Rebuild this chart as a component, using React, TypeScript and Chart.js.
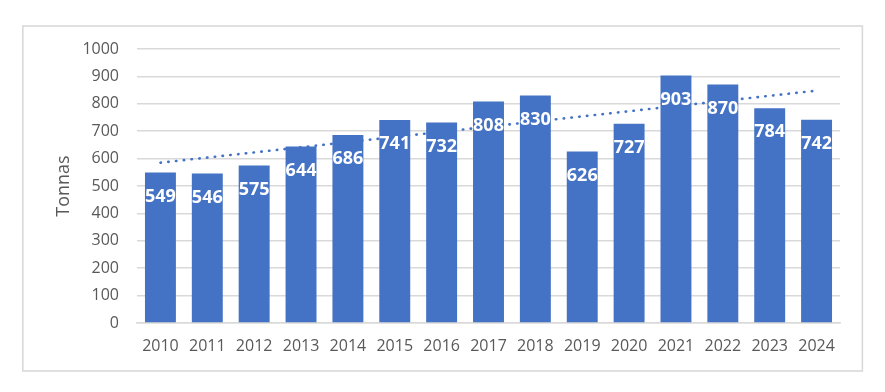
import React, { useEffect, useRef } from "react";
import { Chart, registerables } from "chart.js";

Chart.register(...registerables);

const years = ["2010", "2011", "2012", "2013", "2014", "2015", "2016", "2017", "2018", "2019", "2020", "2021", "2022", "2023", "2024"];
const tonnes = [549, 546, 575, 644, 686, 741, 732, 808, 830, 626, 727, 903, 870, 784, 742];
// linear trendline endpoints
const trendStart = 585;
const trendEnd = 848;
const yTitle = "Tonnas";

const FONT = "'Open Sans', 'Noto Sans', sans-serif";
const BLUE = "#4472C4";
const GRID = "#D9D9D9";
const TEXT = "#595959";

const trendData: (number | null)[] = years.map((_, i) =>
  i === 0 ? trendStart : i === years.length - 1 ? trendEnd : null
);

const framePlugin = {
  id: "frame",
  beforeDraw(chart: any) {
    const ctx = chart.ctx;
    ctx.save();
    ctx.fillStyle = "#ffffff";
    ctx.fillRect(0, 0, chart.width, chart.height);
    ctx.strokeStyle = GRID;
    ctx.lineWidth = 1.6;
    ctx.strokeRect(22.8, 26, 839.6, 345);
    ctx.restore();
  },
};

const labelPlugin = {
  id: "barLabels",
  afterDraw(chart: any) {
    const ctx = chart.ctx;
    const meta = chart.getDatasetMeta(0);
    ctx.save();
    ctx.fillStyle = "#ffffff";
    ctx.font = `bold 18px ${FONT}`;
    ctx.textAlign = "center";
    ctx.textBaseline = "middle";
    meta.data.forEach((bar: any, i: number) => {
      ctx.fillText(String(tonnes[i]), bar.x, bar.y + 24);
    });
    ctx.restore();
  },
};

export default function App() {
  const ref = useRef<HTMLCanvasElement | null>(null);
  useEffect(() => {
    if (!ref.current) return;
    const chart = new Chart(ref.current, {
      type: "bar",
      data: {
        labels: years,
        datasets: [
          {
            type: "bar",
            data: tonnes,
            backgroundColor: BLUE,
            borderWidth: 0,
            categoryPercentage: 1,
            barPercentage: 0.66,
            order: 2,
          },
          {
            type: "line",
            data: trendData,
            spanGaps: true,
            borderColor: BLUE,
            borderWidth: 2.6,
            borderDash: [0.5, 7.3],
            borderCapStyle: "round",
            pointRadius: 0,
            fill: false,
            order: 1,
          } as any,
        ],
      },
      options: {
        responsive: false,
        maintainAspectRatio: false,
        animation: false,
        events: [],
        layout: { padding: { top: 49, right: 45, bottom: 0, left: 0 } },
        plugins: {
          legend: { display: false },
          tooltip: { enabled: false },
          title: { display: false },
        },
        scales: {
          x: {
            grid: { display: false, drawTicks: false },
            border: { display: true, color: GRID, width: 1.6 },
            ticks: {
              color: TEXT,
              font: { family: FONT, size: 16 },
              padding: 14,
              maxRotation: 0,
            },
            afterFit: (s: any) => {
              s.height = 69;
            },
          },
          y: {
            min: 0,
            max: 1000,
            grid: { color: GRID, lineWidth: 1.6, drawTicks: false },
            border: { display: false },
            ticks: {
              stepSize: 100,
              color: TEXT,
              font: { family: FONT, size: 16 },
              padding: 18,
              callback: (v: any) => String(v),
            },
            title: {
              display: true,
              text: yTitle,
              color: TEXT,
              font: { family: FONT, size: 18 },
              padding: { top: 53, bottom: 0 },
            },
            afterFit: (s: any) => {
              s.width = 137;
            },
          },
        },
      },
      plugins: [framePlugin, labelPlugin],
    });
    return () => chart.destroy();
  }, []);
  return (
    <div style={{ position: "absolute", left: 0, top: 0, width: 885, height: 392 }}>
      <canvas ref={ref} width={885} height={392} style={{ width: 885, height: 392 }} />
    </div>
  );
}
